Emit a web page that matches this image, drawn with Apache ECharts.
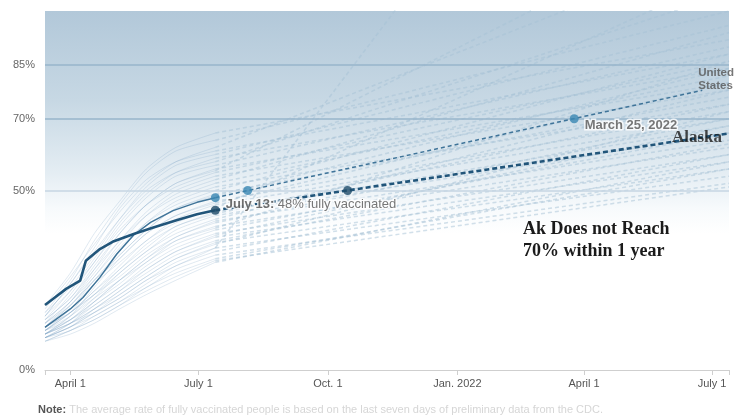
<!DOCTYPE html>
<html><head><meta charset="utf-8">
<script src="https://cdn.jsdelivr.net/npm/echarts@6/dist/echarts.min.js"></script>
<style>html,body{margin:0;padding:0;background:#fff}#c{width:745px;height:418px}</style>
</head><body><div id="c"></div>
<script>
// ---- axis data ----
const axisStart = '2021-03-14';
const axisEnd = '2022-07-13';
const tickDates = ['2021-04-01','2021-07-01','2021-10-01','2022-01-01','2022-04-01','2022-07-01'];
const tickLabels = ['April 1','July 1','Oct. 1','Jan. 2022','April 1','July 1'];
const yTicks = [0, 50, 70, 85];
const gridLevels = [50, 70, 85];

// ---- United States ----
const usDates  = ['2021-03-14','2021-03-22','2021-04-01','2021-04-10','2021-04-22','2021-05-04','2021-05-16','2021-05-28','2021-06-13','2021-06-30','2021-07-13'];
const usValues = [11.9, 14.2, 17.0, 20.2, 25.8, 32.3, 37.6, 41.1, 44.4, 46.7, 48.0];
const usProjDates  = ['2021-07-13','2022-06-24'];
const usProjValues = [48.0, 77.9];
const usDotDates  = ['2021-07-13','2021-08-05','2022-03-25'];
const usDotValues = [48.0, 50.0, 70.0];

// ---- Alaska ----
const akDates  = ['2021-03-14','2021-03-21','2021-03-29','2021-04-08','2021-04-12','2021-04-22','2021-05-01','2021-05-16','2021-05-30','2021-06-16','2021-06-30','2021-07-13'];
const akValues = [18.1, 20.2, 22.6, 24.9, 30.4, 33.7, 35.7, 37.9, 39.7, 41.8, 43.4, 44.5];
const akProjDates  = ['2021-07-13','2022-07-13'];
const akProjValues = [44.5, 65.9];
const akDotDates  = ['2021-07-13','2021-10-15'];
const akDotValues = [44.5, 50.0];

// ---- other states ----
const stateDates = ['2021-03-14','2021-04-01','2021-04-18','2021-05-06','2021-05-25','2021-06-15','2021-07-13'];
const stateHistory = [
  [18,27,38,47,56,62,66],[16,25,36,46,55,61,64],[17,26,35,44,52,58,62],[15,24,34,45,53,58,61],
  [16,23,32,42,51,57,60],[14,22,31,41,49,55,59],[15,24,33,42,50,55,58],[13,21,30,40,48,54,57],
  [14,20,29,38,46,52,56],[12,19,28,38,46,52,55.5],[15,22,30,39,46,51,55],[13,19,27,36,44,50,54],
  [12,18,26,35,43,49,53],[14,20,28,36,43,48,52],[11,17,25,33,41,47,51],[13,19,26,34,41,46,50],
  [12,18,25,32,39,45,49],[11,16,24,32,39,45,48.5],[13,18,25,31,38,43,47],[10,15,23,31,38,43,46.5],
  [12,17,24,30,36,42,46],[11,16,22,29,36,41,45],[12,16,22,28,35,40,44],[10,15,21,28,34,40,43.5],
  [11,16,21,27,33,39,43],[10,14,20,27,33,38,42],[12,16,21,26,32,37,41.5],[10,14,19,25,31,37,41],
  [11,15,20,25,30,36,40],[9,13,19,25,31,36,39.5],[10,14,19,24,30,35,39],[11,14,18,23,29,34,38],
  [9,13,18,23,28,33,37.5],[10,13,17,22,28,33,37],[9,12,17,22,27,32,36],[10,13,17,21,26,31,35.5],
  [9,12,16,21,26,31,35],[9,12,16,20,25,29,34],[10,13,16,20,25,30,34],[9,12,15,19,24,29,33],
  [9,11,15,19,23,28,32],[8,11,14,18,23,27,31],[8,11,14,18,22,26,30.5],[8,10,13,17,21,25,30]
];
const projEndDate = '2022-07-13';
const stateProjEnd = [92,100,118,88,96,84,105,90,80,128,86,78,94,82,74,88,76,84,72,80,70,110,
                      68,74,66,78,64,70,62,86,66,60,68,58,63,56,72,223,54,60,52,56,51,58];

// ---- text ----
const usLabel = ['July 13:', ' 48% fully vaccinated'];
const usMarchLabel = 'March 25, 2022';
const usName = 'United\nStates';
const akName = 'Alaska';
const akNote = 'Ak Does not Reach\n70% within 1 year';
const noteHead = 'Note:';
const noteBody = ' The average rate of fully vaccinated people is based on the last seven days of preliminary data from the CDC.';

// ---- helpers ----
const T = s => { const p = s.split('-').map(Number); return Date.UTC(p[0], p[1]-1, p[2]); };
const zip = (d, v) => d.map((x, i) => [T(x), v[i]]);
const SANS = 'Liberation Sans, Arial, Helvetica, sans-serif';
const SERIF = 'Liberation Serif, Times New Roman, serif';
const tickTs = tickDates.map(T);

const series = [];
stateHistory.forEach((h, i) => {
  series.push({type:'line', data: zip(stateDates, h), smooth:0.25, symbol:'none', silent:true, z:1,
    lineStyle:{color:'rgba(125,165,198,0.24)', width:1}});
  series.push({type:'line', data: [[T('2021-07-13'), h[h.length-1]], [T(projEndDate), stateProjEnd[i]]],
    symbol:'none', silent:true, z:1,
    lineStyle:{color:'rgba(165,193,214,0.5)', width:1.5, type:[4,3]}});
});
// gridlines
series.push({type:'line', data: [], z:3, silent:true,
  markLine:{silent:true, symbol:['none','none'], label:{show:false}, animation:false,
    data: gridLevels.map(v => ({yAxis:v, lineStyle:{color: v === 50 ? '#c6d6e3' : '#97b5cb', width:1.5, type:'solid'}}))}});
// US
series.push({type:'line', data: zip(usDates, usValues), symbol:'none', z:5,
  lineStyle:{color:'#3f7499', width:1.5}});
series.push({type:'line', data: zip(usProjDates, usProjValues), symbol:'none', z:5,
  lineStyle:{color:'#3f7499', width:1.5, type:[4,3]}});
// Alaska
series.push({type:'line', data: zip(akDates, akValues), symbol:'none', z:6,
  lineStyle:{color:'#21557a', width:2.6}});
series.push({type:'line', data: zip(akProjDates, akProjValues), symbol:'none', z:6,
  lineStyle:{color:'#21557a', width:2.6, type:[5,3]}});
// dots + labels
series.push({type:'scatter', z:7, symbolSize:9, itemStyle:{color:'#3a87b3'},
  data: zip(usDotDates, usDotValues).map((p, i) => {
    const o = {value:p};
    if (i === 0) o.label = {show:true, position:'right', distance:5, offset:[1,7],
      formatter:'{b|' + usLabel[0] + '}{r|' + usLabel[1] + '}',
      rich:{b:{fontFamily:SANS, fontSize:13, fontWeight:'bold', color:'#4a4a4a', textBorderColor:'#fff', textBorderWidth:3},
            r:{fontFamily:SANS, fontSize:13, color:'#555', textBorderColor:'#fff', textBorderWidth:3}}};
    if (i === 2) o.label = {show:true, position:'right', distance:5, offset:[1,7],
      fontFamily:SANS, fontSize:13, color:'#555', textBorderColor:'#fff', textBorderWidth:3,
      fontWeight:'bold', formatter: usMarchLabel};
    return o;
  })});
series.push({type:'scatter', z:7, symbolSize:9, itemStyle:{color:'#1e4b69'},
  data: zip(akDotDates, akDotValues)});
// end labels
series.push({type:'scatter', z:7, symbolSize:0, silent:true,
  data:[{value:[T(usProjDates[1]), usProjValues[1]],
    label:{show:true, position:'right', distance:5, offset:[-9,-11], formatter:usName,
      fontFamily:SANS, fontSize:11.5, lineHeight:13, fontWeight:'bold', color:'#555'}}]});
series.push({type:'scatter', z:7, symbolSize:0, silent:true,
  data:[{value:[T(akProjDates[1]), akProjValues[1]],
    label:{show:true, position:'left', distance:7, offset:[0,4], formatter:akName,
      fontFamily:SERIF, fontSize:17, fontWeight:'bold', color:'#1a1a1a'}}]});

const chart = echarts.init(document.getElementById('c'), null, {renderer:'canvas'});
chart.setOption({
  animation:false,
  backgroundColor:'#fff',
  grid:{left:45, right:16, top:11, bottom:48, show:true, borderWidth:0,
    backgroundColor: new echarts.graphic.LinearGradient(0,0,0,1,[
      {offset:0, color:'#b2c8d9'},{offset:0.25, color:'#c7d8e4'},{offset:0.45, color:'#e4edf3'},
      {offset:0.55, color:'#f7fafc'},{offset:0.62, color:'#ffffff'},{offset:1, color:'#ffffff'}])},
  xAxis:{type:'value', min:T(axisStart), max:T(axisEnd),
    axisLine:{show:true, lineStyle:{color:'#cfcfcf', width:1}},
    axisTick:{show:true, length:5, lineStyle:{color:'#cfcfcf'}, customValues:[T(axisStart)].concat(tickTs, [T(axisEnd)])},
    axisLabel:{customValues:tickTs, margin:8, fontFamily:SANS, fontSize:11, color:'#555',
      formatter: v => { const i = tickTs.indexOf(v); return i >= 0 ? tickLabels[i] : ''; }},
    splitLine:{show:false}},
  yAxis:{type:'value', min:0, max:100,
    axisLine:{show:false}, axisTick:{show:false}, splitLine:{show:false},
    axisLabel:{customValues:yTicks, margin:10, fontFamily:SANS, fontSize:11, color:'#666', formatter: v => v + '%'}},
  graphic:[
    {type:'text', left:523, top:218, style:{text:akNote, font:'bold 18px ' + SERIF, lineHeight:22, fill:'#1a1a1a'}},
    {type:'text', left:38, top:404, style:{text:'{h|' + noteHead + '}{t|' + noteBody + '}',
      rich:{h:{fontFamily:SANS, fontSize:11, fontWeight:'bold', fill:'#555', color:'#555'},
            t:{fontFamily:SANS, fontSize:11, fill:'#d6d6d6', color:'#d6d6d6'}}}}
  ],
  series: series
});
</script></body></html>
